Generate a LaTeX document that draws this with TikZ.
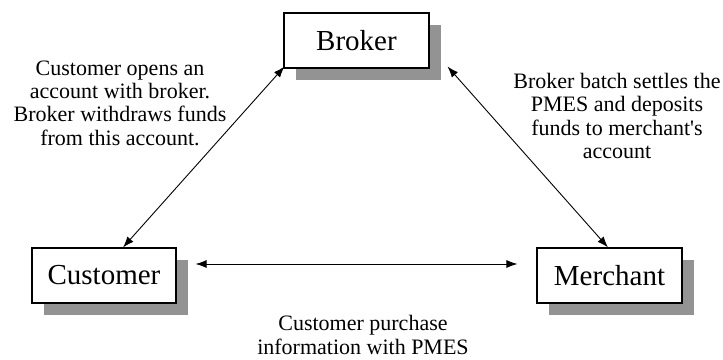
\documentclass[tikz,border=0pt]{standalone}
\usepackage{fontspec}
\setmainfont{Liberation Serif}[Ligatures=TeXOff]
\usetikzlibrary{arrows.meta,calc}
\definecolor{shade}{HTML}{939393}
\tikzset{
  party/.style={draw=black, line width=1.1pt, fill=white, minimum width=145pt,
    minimum height=55pt, inner sep=0pt, font=\fontsize{29}{31}\selectfont},
  shadowbox/.style={fill=shade, draw=none, minimum width=145pt,
    minimum height=55pt, inner sep=0pt},
  note/.style={align=center, inner sep=0pt, font=\fontsize{22}{23.3}\selectfont},
  link/.style={line width=0.9pt, {Latex[length=11pt,width=8pt]}-{Latex[length=11pt,width=8pt]}},
}
\begin{document}
\begin{tikzpicture}[x=1pt,y=-1pt]
\useasboundingbox (0,0) rectangle (723,359);
% drop shadows
\node[shadowbox] (brkS) at (368,52) {};
\node[shadowbox, minimum width=144pt] (custS) at (116,287) {};
\node[shadowbox] (merS) at (621.5,287) {};
% parties
\node[party] (brk) at (356.5,40.5) {Broker};
\node[party, minimum width=144pt] (cust) at (104,275.5) {Customer};
\node[party] (mer) at (609.5,275.5) {Merchant};
% connector end points
\coordinate (cUp) at ([xshift=19pt]cust.north);
\coordinate (bLeft) at ([xshift=1pt,yshift=2pt]brk.south west);
\coordinate (bRight) at ([xshift=18pt,yshift=2pt]brk.south east);
\coordinate (mUp) at ([xshift=-1.5pt]mer.north);
\coordinate (cRight) at ([xshift=19pt,yshift=11.5pt]cust.east);
\coordinate (mLeft) at ([xshift=-19pt,yshift=11.5pt]mer.west);
% connectors
\draw[link] (cUp) -- (bLeft);
\draw[link] (bRight) -- (mUp);
\draw[link] (cRight) -- (mLeft);
% labels
\node[note] (lnote) at (120,103) {Customer opens an\\account with broker.\\Broker withdraws funds\\from this account.};
\node[note] (rnote) at (617,116) {Broker batch settles the\\PMES and deposits\\funds to merchant's\\account};
\node[note] (bnote) at (363,335) {Customer purchase\\information with PMES};
\end{tikzpicture}
\end{document}
